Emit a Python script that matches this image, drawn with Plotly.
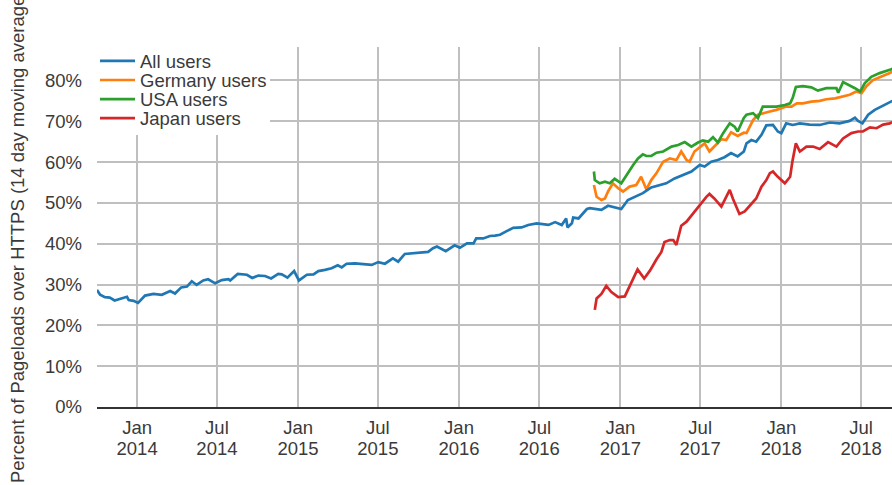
import plotly.graph_objects as go

# ---- data: percent of page loads over HTTPS (14 day moving average) ----
all_dates = [
    "2013-10-02", "2013-10-09", "2013-10-20", "2013-10-31", "2013-11-11", "2013-11-24", "2013-12-09", "2013-12-13", "2013-12-24", "2014-01-03",
    "2014-01-19", "2014-02-07", "2014-02-26", "2014-03-17", "2014-03-28", "2014-04-11", "2014-04-24", "2014-05-05", "2014-05-16", "2014-05-31",
    "2014-06-11", "2014-06-27", "2014-07-12", "2014-07-27", "2014-07-31", "2014-08-17", "2014-09-07", "2014-09-19", "2014-10-03", "2014-10-18",
    "2014-11-01", "2014-11-17", "2014-11-25", "2014-12-08", "2014-12-23", "2015-01-03", "2015-01-21", "2015-02-05", "2015-02-16", "2015-03-03",
    "2015-03-18", "2015-04-01", "2015-04-10", "2015-04-21", "2015-05-10", "2015-05-29", "2015-06-17", "2015-07-02", "2015-07-17", "2015-08-04",
    "2015-08-16", "2015-08-31", "2015-09-19", "2015-10-23", "2015-11-03", "2015-11-12", "2015-12-02", "2015-12-22", "2016-01-03", "2016-01-19",
    "2016-02-03", "2016-02-09", "2016-02-25", "2016-03-11", "2016-03-23", "2016-04-03", "2016-04-18", "2016-05-03", "2016-05-22", "2016-06-06",
    "2016-06-25", "2016-07-07", "2016-07-22", "2016-08-06", "2016-08-21", "2016-08-31", "2016-09-03", "2016-09-13", "2016-09-16", "2016-09-28",
    "2016-10-17", "2016-10-24", "2016-11-04", "2016-11-19", "2016-12-04", "2016-12-19", "2017-01-03", "2017-01-18", "2017-02-02", "2017-02-21",
    "2017-03-12", "2017-03-27", "2017-04-15", "2017-05-04", "2017-05-23", "2017-06-11", "2017-06-30", "2017-07-11", "2017-07-26", "2017-08-10",
    "2017-08-25", "2017-09-09", "2017-09-24", "2017-10-08", "2017-10-14", "2017-10-25", "2017-11-05", "2017-11-17", "2017-11-28", "2017-12-13",
    "2017-12-24", "2018-01-01", "2018-01-12", "2018-01-27", "2018-02-12", "2018-03-06", "2018-03-29", "2018-04-21", "2018-05-13", "2018-06-05",
    "2018-06-17", "2018-06-24", "2018-07-04", "2018-07-17", "2018-08-01", "2018-08-16", "2018-09-04", "2018-09-10",
]
all_users = [
    28.7, 27.5, 26.9, 26.8, 26.1, 26.6, 27.0, 26.2, 26.0, 25.5,
    27.3, 27.7, 27.5, 28.4, 27.8, 29.3, 29.5, 30.8, 29.9, 31.0,
    31.3, 30.3, 31.1, 31.3, 31.0, 32.6, 32.4, 31.6, 32.2, 32.1,
    31.5, 32.6, 32.5, 31.7, 33.3, 31.0, 32.4, 32.5, 33.3, 33.6,
    34.0, 34.7, 34.2, 35.1, 35.2, 35.0, 34.8, 35.5, 35.1, 36.4,
    35.6, 37.5, 37.7, 38.0, 38.9, 39.3, 38.2, 39.6, 39.0, 40.1,
    40.1, 41.3, 41.3, 41.9, 42.0, 42.2, 43.1, 43.9, 44.0, 44.6,
    45.0, 44.9, 44.6, 45.3, 44.6, 46.2, 44.0, 45.0, 46.4, 46.2,
    48.5, 48.7, 48.5, 48.3, 49.3, 48.9, 48.5, 50.7, 51.5, 52.4,
    53.8, 54.2, 54.8, 56.0, 56.9, 57.7, 59.3, 58.9, 60.1, 60.5,
    61.2, 62.2, 61.4, 62.6, 64.6, 65.4, 65.0, 66.7, 69.0, 69.1,
    67.5, 67.1, 69.5, 69.1, 69.5, 69.2, 69.1, 69.7, 69.5, 70.1,
    70.9, 70.1, 69.5, 71.6, 72.8, 73.6, 74.7, 75.0,
]

germany_dates = [
    "2016-11-02", "2016-11-08", "2016-11-19", "2016-11-27", "2016-12-04", "2016-12-15", "2016-12-27", "2017-01-07", "2017-01-22", "2017-02-06",
    "2017-02-17", "2017-03-01", "2017-03-12", "2017-03-24", "2017-04-08", "2017-04-23", "2017-05-08", "2017-05-19", "2017-05-31", "2017-06-07",
    "2017-06-18", "2017-07-03", "2017-07-11", "2017-07-22", "2017-08-02", "2017-08-18", "2017-08-29", "2017-09-09", "2017-09-24", "2017-10-08",
    "2017-10-14", "2017-10-29", "2017-11-09", "2017-11-20", "2017-12-06", "2017-12-21", "2018-01-01", "2018-01-12", "2018-01-24", "2018-02-05",
    "2018-02-19", "2018-03-10", "2018-03-29", "2018-04-13", "2018-05-03", "2018-05-18", "2018-06-05", "2018-06-20", "2018-07-02", "2018-07-13",
    "2018-07-28", "2018-08-16", "2018-09-04", "2018-09-10",
]
germany_users = [
    54.4, 51.5, 50.7, 51.1, 52.8, 54.8, 53.6, 52.8, 54.0, 54.4,
    56.4, 53.3, 55.6, 57.3, 60.1, 60.9, 60.5, 62.6, 60.5, 60.1,
    62.6, 63.8, 64.6, 62.6, 63.8, 65.6, 65.4, 67.3, 66.4, 67.2,
    67.1, 70.3, 71.6, 72.0, 72.4, 72.8, 73.2, 73.6, 73.6, 74.4,
    74.4, 74.8, 75.0, 75.4, 75.6, 76.0, 76.5, 77.3, 76.9, 78.6,
    80.1, 81.0, 81.8, 82.3,
]

usa_dates = [
    "2016-11-02", "2016-11-04", "2016-11-15", "2016-11-27", "2016-12-08", "2016-12-19", "2017-01-03", "2017-01-15", "2017-01-30", "2017-02-10",
    "2017-02-21", "2017-03-01", "2017-03-12", "2017-03-24", "2017-04-08", "2017-04-27", "2017-05-12", "2017-05-27", "2017-06-11", "2017-06-26",
    "2017-07-07", "2017-07-19", "2017-07-30", "2017-08-10", "2017-08-22", "2017-09-06", "2017-09-17", "2017-09-24", "2017-10-08", "2017-10-14",
    "2017-10-29", "2017-11-09", "2017-11-20", "2017-12-06", "2017-12-21", "2018-01-09", "2018-01-21", "2018-01-27", "2018-02-03", "2018-02-19",
    "2018-03-10", "2018-03-25", "2018-04-13", "2018-05-06", "2018-05-10", "2018-05-21", "2018-06-05", "2018-06-17", "2018-06-29", "2018-07-09",
    "2018-07-24", "2018-08-12", "2018-09-04", "2018-09-10",
]
usa_users = [
    57.7, 55.6, 54.8, 55.2, 54.8, 55.9, 54.8, 56.9, 59.3, 60.9,
    61.9, 61.5, 61.5, 62.3, 62.6, 63.8, 64.2, 64.9, 63.8, 64.8,
    65.3, 65.0, 66.1, 64.8, 67.1, 69.5, 68.7, 67.5, 70.8, 71.6,
    72.0, 70.8, 73.6, 73.6, 73.6, 74.0, 74.4, 75.8, 78.4, 78.6,
    78.3, 77.5, 78.1, 78.1, 77.0, 79.6, 78.8, 78.1, 77.3, 79.3,
    80.9, 81.8, 82.6, 82.9,
]

japan_dates = [
    "2016-11-04", "2016-11-08", "2016-11-19", "2016-11-30", "2016-12-11", "2016-12-27", "2017-01-11", "2017-01-27", "2017-02-09", "2017-02-24",
    "2017-03-09", "2017-03-24", "2017-04-04", "2017-04-11", "2017-04-23", "2017-05-01", "2017-05-08", "2017-05-19", "2017-05-31", "2017-06-11",
    "2017-06-23", "2017-07-03", "2017-07-15", "2017-07-22", "2017-08-02", "2017-08-18", "2017-08-25", "2017-09-06", "2017-09-13", "2017-09-28",
    "2017-10-10", "2017-10-25", "2017-11-05", "2017-11-17", "2017-11-28", "2017-12-06", "2017-12-13", "2017-12-24", "2018-01-09", "2018-01-21",
    "2018-01-26", "2018-02-03", "2018-02-12", "2018-02-27", "2018-03-14", "2018-03-29", "2018-04-17", "2018-05-06", "2018-05-21", "2018-06-09",
    "2018-06-24", "2018-07-05", "2018-07-21", "2018-08-05", "2018-08-20", "2018-09-04", "2018-09-10",
]
japan_users = [
    23.8, 26.6, 27.7, 29.7, 28.2, 26.9, 27.1, 30.9, 33.7, 31.5,
    33.4, 36.2, 38.0, 40.4, 40.9, 40.9, 39.7, 44.4, 45.4, 46.9,
    48.5, 50.0, 51.5, 52.2, 51.1, 49.1, 50.7, 53.2, 51.1, 47.3,
    47.9, 49.9, 51.1, 54.0, 55.6, 57.3, 57.7, 56.4, 54.8, 56.4,
    60.1, 64.6, 62.6, 63.8, 63.8, 63.2, 64.9, 63.8, 65.8, 67.1,
    67.5, 67.5, 68.5, 68.3, 69.2, 69.5, 69.8,
]

tick_dates = ["2014-01-01", "2014-07-01", "2015-01-01", "2015-07-01", "2016-01-01",
              "2016-07-01", "2017-01-01", "2017-07-01", "2018-01-01", "2018-07-01"]
tick_months = ["Jan", "Jul", "Jan", "Jul", "Jan", "Jul", "Jan", "Jul", "Jan", "Jul"]
tick_years = ["2014", "2014", "2015", "2015", "2016", "2016", "2017", "2017", "2018", "2018"]
y_ticks = [0, 10, 20, 30, 40, 50, 60, 70, 80]
y_tick_text = ["0%", "10%", "20%", "30%", "40%", "50%", "60%", "70%", "80%"]

x_range = ["2013-10-02", "2018-09-09"]

series = [
    ("All users", all_dates, all_users, "#1f77b4", "legend"),
    ("Germany users", germany_dates, germany_users, "#ff7f0e", "legend2"),
    ("USA users", usa_dates, usa_users, "#2ca02c", "legend3"),
    ("Japan users", japan_dates, japan_users, "#d62728", "legend4"),
]

FONT = "Liberation Sans, Arial, sans-serif"
TEXT = "#3a3a3a"
GRID = "#bfbfbf"
SIZE = 18.5

fig = go.Figure()
for i, (name, xs, ys, color, leg) in enumerate(series):
    fig.add_trace(go.Scatter(
        x=xs, y=ys, mode="lines", name=name, legend=leg,
        # the first series rides the twin x axis that carries the year labels
        xaxis="x2" if i == 0 else "x",
        line=dict(color=color, width=2.7),
    ))

# one single-entry legend per series so the rows can sit closely stacked
legend_rows = {"legend": 0.96, "legend2": 0.907, "legend3": 0.854, "legend4": 0.801}
legend_style = {}
for key, ypos in legend_rows.items():
    legend_style[key] = dict(
        x=-0.0025, y=ypos, xanchor="left", yanchor="middle",
        bgcolor="rgba(0,0,0,0)", borderwidth=0, itemwidth=35,
        font=dict(family=FONT, size=SIZE, color=TEXT),
    )

fig.update_layout(
    width=892, height=485,
    margin=dict(l=97, r=0, t=47, b=78, autoexpand=False),
    paper_bgcolor="white", plot_bgcolor="white",
    font=dict(family=FONT, size=SIZE, color=TEXT),
    showlegend=True,
    **legend_style,
    xaxis=dict(
        type="date", range=x_range,
        tickmode="array", tickvals=tick_dates, ticktext=tick_months,
        showgrid=True, gridcolor=GRID, gridwidth=2,
        showline=True, linecolor="#333333", linewidth=2,
        ticks="", zeroline=False, ticklabelstandoff=3,
        tickfont=dict(family=FONT, size=SIZE, color=TEXT),
    ),
    xaxis2=dict(
        type="date", range=x_range, overlaying="x", side="bottom", anchor="y",
        tickmode="array", tickvals=tick_dates, ticktext=tick_years,
        showgrid=False, showline=False, zeroline=False,
        ticks="", ticklabelstandoff=28,
        tickfont=dict(family=FONT, size=SIZE, color=TEXT),
    ),
    yaxis=dict(
        range=[0, 88.2], tickmode="array", tickvals=y_ticks, ticktext=y_tick_text,
        showgrid=True, gridcolor=GRID, gridwidth=2,
        showline=False, zeroline=False, ticks="", ticklabelstandoff=14,
        tickfont=dict(family=FONT, size=SIZE, color=TEXT),
    ),
    # white panel behind the legend that hides the grid there
    shapes=[dict(
        type="rect", xref="paper", yref="paper",
        x0=0, x1=0.2176, y0=0.7556, y1=1.0,
        fillcolor="white", line=dict(width=0), layer="above",
    )],
    annotations=[dict(
        text="Percent of Pageloads over HTTPS (14 day moving average)",
        textangle=-90, xref="paper", yref="paper",
        x=-0.1006, y=0.475, xanchor="center", yanchor="middle",
        showarrow=False, font=dict(family=FONT, size=SIZE, color=TEXT),
    )],
)

fig.write_html("out.html")
